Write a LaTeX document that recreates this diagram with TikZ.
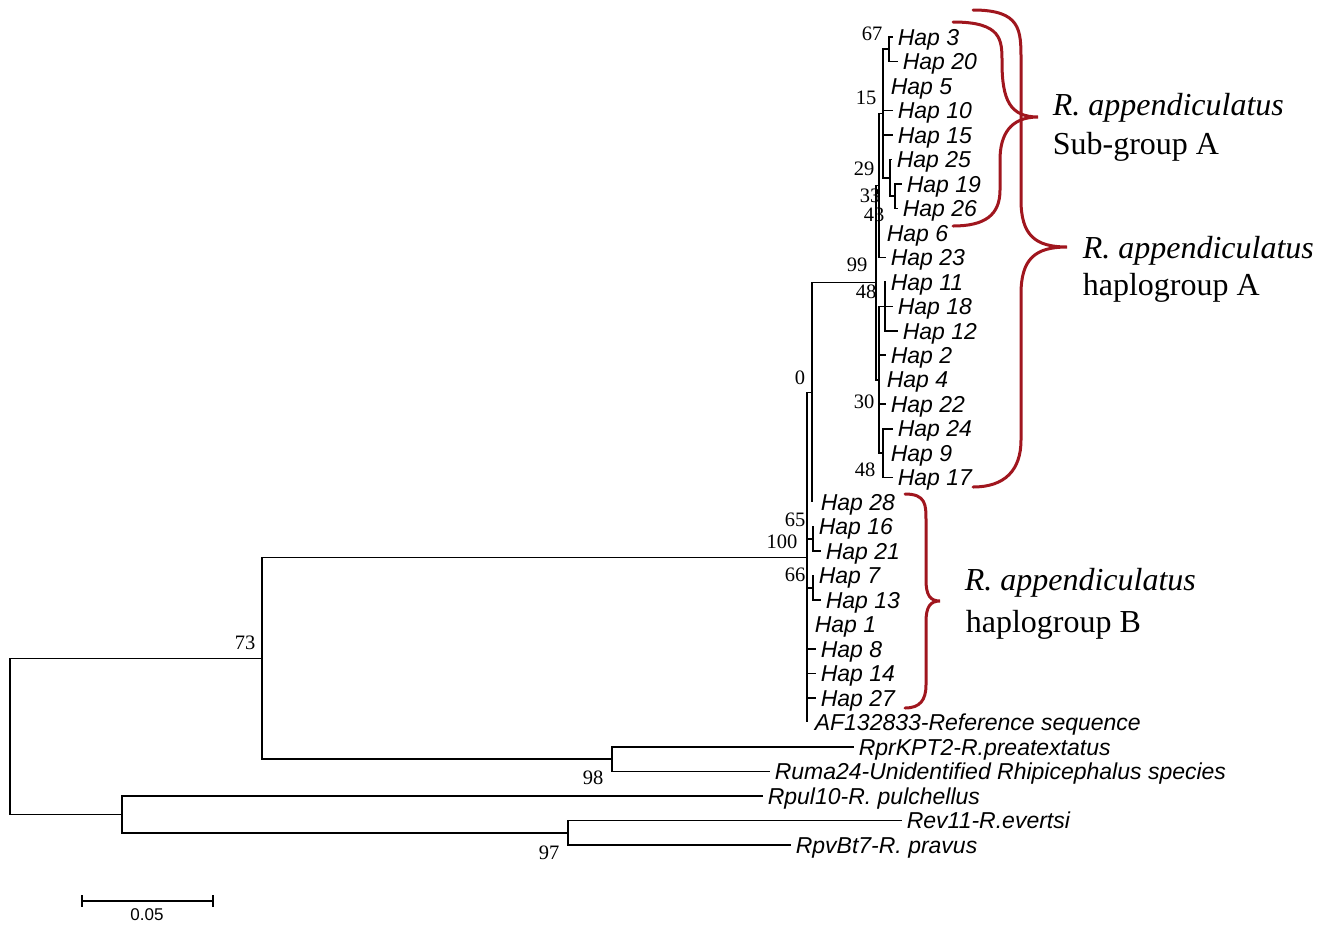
\documentclass[tikz,border=0pt]{standalone}
\usepackage{fontspec}
\setmainfont{Liberation Serif}
\newfontfamily\arialfont{Liberation Sans}
\definecolor{braceRed}{RGB}{160,22,30}
\begin{document}
\begin{tikzpicture}[x=1pt,y=-1pt,line cap=butt,line join=miter,line width=1.6pt]
	\tikzset{leaf/.style={anchor=west,inner xsep=4pt,inner ysep=0pt,text height=16.5pt,text depth=0pt,
			font=\arialfont\itshape\fontsize{23}{26}\selectfont},
		boot/.style={inner sep=0pt,font=\fontsize{20.5}{22}\selectfont},
		grp/.style={anchor=base west,inner sep=0pt,font=\fontsize{32}{36}\selectfont},
		brace/.style={draw=braceRed,line width=3pt,line cap=round}
	}
	\useasboundingbox (0,0) rectangle (1339,927);
	% inner nodes of the tree
	\coordinate (root) at (10,736.3);
	\coordinate (n73) at (262,658.3);
	\coordinate (n98) at (612,759.2);
	\coordinate (nout) at (122,814.3);
	\coordinate (n97) at (568,832.7);
	\coordinate (n100) at (807,557.4);
	\coordinate (n0) at (812,392.4);
	\coordinate (n65) at (813,538.9);
	\coordinate (n66) at (813,587.8);
	\coordinate (n99) at (876,282.6);
	\coordinate (n43) at (879,185.4);
	\coordinate (n15) at (883,113.5);
	\coordinate (n67) at (889,49.2);
	\coordinate (n29) at (890,177.8);
	\coordinate (n33) at (895,196.1);
	\coordinate (nlow) at (879,379.7);
	\coordinate (n11) at (885,306.3);
	\coordinate (n24) at (883,453.2);
	% leaves
	\node[leaf] (h3) at (893,37.0) {Hap 3};
	\node[leaf] (h20) at (898,61.5) {Hap 20};
	\node[leaf,inner xsep=7pt] (h5) at (883,86.0) {Hap 5};
	\node[leaf] (h10) at (893,110.4) {Hap 10};
	\node[leaf] (h15) at (893,134.9) {Hap 15};
	\node[leaf] (h25) at (892,159.4) {Hap 25};
	\node[leaf] (h19) at (902,183.9) {Hap 19};
	\node[leaf] (h26) at (898,208.4) {Hap 26};
	\node[leaf,inner xsep=7pt] (h6) at (879,232.8) {Hap 6};
	\node[leaf] (h23) at (886,257.3) {Hap 23};
	\node[leaf] (h11) at (886,281.8) {Hap 11};
	\node[leaf] (h18) at (893,306.3) {Hap 18};
	\node[leaf] (h12) at (898,330.8) {Hap 12};
	\node[leaf] (h2) at (886,355.2) {Hap 2};
	\node[leaf,inner xsep=7pt] (h4) at (879,379.7) {Hap 4};
	\node[leaf] (h22) at (886,404.2) {Hap 22};
	\node[leaf] (h24) at (893,428.7) {Hap 24};
	\node[leaf,inner xsep=7pt] (h9) at (883,453.2) {Hap 9};
	\node[leaf] (h17) at (893,477.6) {Hap 17};
	\node[leaf,inner xsep=8pt] (h28) at (812,502.1) {Hap 28};
	\node[leaf] (h16) at (814,526.6) {Hap 16};
	\node[leaf] (h21) at (821,551.1) {Hap 21};
	\node[leaf] (h7) at (814,575.6) {Hap 7};
	\node[leaf] (h13) at (821,600.0) {Hap 13};
	\node[leaf,inner xsep=7pt] (h1) at (807,624.5) {Hap 1};
	\node[leaf] (h8) at (816,649.0) {Hap 8};
	\node[leaf] (h14) at (816,673.5) {Hap 14};
	\node[leaf] (h27) at (816,698.0) {Hap 27};
	\node[leaf,inner xsep=7pt] (af) at (807,722.4) {AF132833-Reference sequence};
	\node[leaf] (rpr) at (854,746.9) {RprKPT2-R.preatextatus};
	\node[leaf] (rum) at (770,771.4) {Ruma24-Unidentified Rhipicephalus species};
	\node[leaf] (rpul) at (763,795.9) {Rpul10-R. pulchellus};
	\node[leaf] (rev) at (902,820.4) {Rev11-R.evertsi};
	\node[leaf] (rpv) at (791,844.9) {RpvBt7-R. pravus};
	% branches
	\draw (root) |- (n73) (root) |- (nout);
	\draw (n73) |- (n100) (n73) |- (n98);
	\draw (n98) |- (rpr.west) (n98) |- (rum.west);
	\draw (nout) |- (rpul.west) (nout) |- (n97);
	\draw (n97) |- (rev.west) (n97) |- (rpv.west);
	\draw (n100) |- (n0) (n100) |- (n65) (n100) |- (n66) (n100) |- (h1.west)
	(n100) |- (h8.west) (n100) |- (h14.west) (n100) |- (h27.west) (n100) |- (af.west);
	\draw (n65) |- (h16.west) (n65) |- (h21.west);
	\draw (n66) |- (h7.west) (n66) |- (h13.west);
	\draw (n0) |- (n99) (n0) |- (h28.west);
	\draw (n99) |- (n43) (n99) |- (nlow);
	\draw (n43) |- (n15) (n43) |- (h6.west) (n43) |- (h23.west);
	\draw (n15) |- (n67) (n15) |- (h5.west) (n15) |- (h10.west) (n15) |- (h15.west) (n15) |- (n29);
	\draw (n67) |- (h3.west) (n67) |- (h20.west);
	\draw (n29) |- (h25.west) (n29) |- (n33);
	\draw (n33) |- (h19.west) (n33) |- (h26.west);
	\draw (nlow) |- (n11) (nlow) |- (h2.west) (nlow) |- (h4.west) (nlow) |- (h22.west) (nlow) |- (n24);
	\draw (n11) |- (h11.west) (n11) |- (h18.west) (n11) |- (h12.west);
	\draw (n24) |- (h24.west) (n24) |- (h9.west) (n24) |- (h17.west);
	% bootstrap values
	\node[boot] (b67) at (872,34) {67};
	\node[boot] (b15) at (866,98) {15};
	\node[boot] (b29) at (864,169) {29};
	\node[boot] (b33) at (870,196) {33};
	\node[boot] (b43) at (874,215) {43};
	\node[boot] (b99) at (857,265) {99};
	\node[boot] (b48a) at (866,292) {48};
	\node[boot] (b0) at (800,378) {0};
	\node[boot] (b30) at (864,402) {30};
	\node[boot] (b48b) at (865,470) {48};
	\node[boot] (b65) at (795,520) {65};
	\node[boot] (b100) at (782,542) {100};
	\node[boot] (b66) at (795,575) {66};
	\node[boot] (b73) at (245,643) {73};
	\node[boot] (b98) at (593,778) {98};
	\node[boot] (b97) at (549,853) {97};
	% scale bar
	\coordinate (sb0) at (82,901);
	\coordinate (sb1) at (213,901);
	\draw (sb0) -- (sb1) ([yshift=6pt]sb0) -- ([yshift=-6pt]sb0) ([yshift=6pt]sb1) -- ([yshift=-6pt]sb1);
	\node[inner sep=0pt,font=\arialfont\fontsize{17}{18}\selectfont] (sblab) at (147,915) {0.05};
	% groups
	\draw[brace] (953,22) .. controls (1002,22) and (1002,40) .. (1002,62)
	.. controls (1002,100) and (1010,117) .. (1038,117)
	.. controls (1010,117) and (1000,135) .. (1000,160) -- (1000,190)
	.. controls (1000,215) and (985,226) .. (953,226);
	\draw[brace] (973,10) .. controls (1021,10) and (1021,30) .. (1021,60) -- (1021,200)
	.. controls (1021,235) and (1035,247) .. (1067,247)
	.. controls (1035,247) and (1021,259) .. (1021,294) -- (1021,440)
	.. controls (1021,470) and (1005,487) .. (973,487);
	\draw[brace] (905,494) .. controls (926,494) and (926,505) .. (926,520) -- (926,580)
	.. controls (926,595) and (930,601) .. (940,601)
	.. controls (930,601) and (926,607) .. (926,622) -- (926,685)
	.. controls (926,700) and (920,708) .. (905,708);
	\node[grp] (ga1) at (1052,115) {\itshape R. appendiculatus};
	\node[grp] (ga2) at (1052,154) {Sub-group A};
	\node[grp] (gb1) at (1082,258) {\itshape R. appendiculatus};
	\node[grp] (gb2) at (1082,295) {haplogroup A};
	\node[grp] (gc1) at (964,590) {\itshape R. appendiculatus};
	\node[grp] (gc2) at (965,632) {haplogroup B};
\end{tikzpicture}
\end{document}
